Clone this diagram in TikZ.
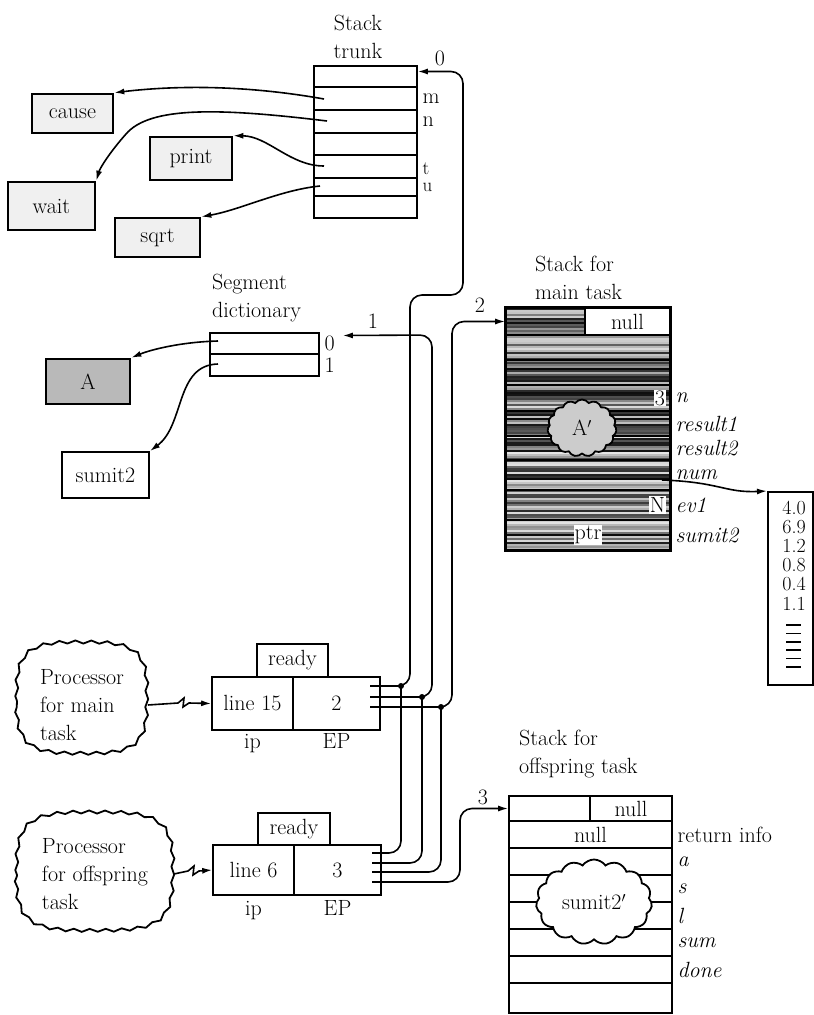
\documentclass[tikz,border=0pt]{standalone}
\usepackage{tikz}
\usetikzlibrary{arrows.meta,positioning,shapes.symbols,decorations.pathmorphing}

\begin{document}
\begin{tikzpicture}[x=1pt, y=-1pt, >=Latex, line width=1.6pt,
    font=\fontsize{22}{28}\selectfont,
    cell/.style={draw, inner sep=0pt},
    fnbox/.style={draw, line width=2.6pt, inner sep=0pt, fill=gray!12},
    cpu/.style={align=left, inner sep=0pt},
    wavy/.style={line width=1.8pt, decorate, decoration={snake, amplitude=1.5pt, segment length=16pt}},
    blob/.style={cloud, cloud puffs=15, cloud puff arc=110, cloud ignores aspect,
      draw, line width=1.8pt, inner sep=0pt},
    ptr/.style={-{Latex[length=10pt,width=6pt]}},
    wire/.style={rounded corners=12pt},
    tag/.style={inner sep=1pt},
    field/.style={inner sep=1pt, font=\fontsize{22}{28}\selectfont\itshape}
  ]
  \useasboundingbox (0,0) rectangle (814,1015);

  % stack trunk and the procedures it points to
  \node[align=center] (trunkttl) at (358,37) {Stack\\trunk};
  \foreach \ya/\yb [count=\i from 0] in {66/87,87/110,110/133,133/155,155/178,178/196,196/218}
    \node[cell, minimum width=103pt, minimum height={(\yb-\ya)*1pt}] (tr\i) at (365.5,{(\ya+\yb)/2}) {};
  \node[tag, right=3pt of tr1] {m};
  \node[tag, right=3pt of tr2] {n};
  \node[inner sep=0pt, align=left, font=\fontsize{19}{17}\selectfont, anchor=west] at ([xshift=4pt]tr5.north east) {t\\u};
  \coordinate (pm) at (324,99);
  \coordinate (pn) at (327,121);
  \coordinate (pt) at (324,166);
  \coordinate (pu) at (320,186);
  \coordinate (trin) at ([yshift=5pt]tr0.east);

  \node[fnbox, minimum width=81pt, minimum height=39pt] (cause) at (72.5,113.5) {cause};
  \node[fnbox, minimum width=82pt, minimum height=43pt] (print) at (191,158.5) {print};
  \node[fnbox, minimum width=87pt, minimum height=48pt] (wait) at (51.5,206) {wait};
  \node[fnbox, minimum width=85pt, minimum height=39pt] (sqrt) at (157.5,237.5) {sqrt};

  \draw[ptr] (pm) .. controls (240,84) and (170,86) .. (cause.north east);
  \draw[ptr] (pn) .. controls (220,108) and (150,106) .. (126,134)
                  .. controls (110,152) and (100,168) .. (wait.north east);
  \draw[ptr] (pt) .. controls (290,166) and (268,136) .. (print.north east);
  \draw[ptr] (pu) .. controls (280,190) and (240,210) .. (sqrt.north east);

  % segment dictionary
  \node[anchor=west, align=left] (segttl) at (208,298) {Segment\\dictionary};
  \node[cell, minimum width=109pt, minimum height=21pt] (sd0) at (264.5,343.5) {};
  \node[cell, minimum width=109pt, minimum height=22pt] (sd1) at (264.5,365) {};
  \node[tag, right=3pt of sd0] {0};
  \node[tag, right=3pt of sd1] {1};
  \coordinate (sa) at (218,341);
  \coordinate (sb) at (218,364);
  \coordinate (sdin) at ([xshift=23pt,yshift=8pt]sd0.east);
  \node[fnbox, fill=gray!55, minimum width=84pt, minimum height=45pt] (A) at (88,381.5) {A};
  \node[fnbox, line width=2pt, fill=none, minimum width=87pt, minimum height=46pt] (sumit) at (105.5,475) {sumit2};
  \draw[ptr] (sa) .. controls (180,342) and (150,350) .. (A.north east);
  \draw[ptr] (sb) .. controls (175,365) and (185,425) .. (sumit.north east);

  % stack for main task
  \node[anchor=west, align=left] (msttl) at (531,278) {Stack for\\main task};
  \pgfmathsetseed{7}
  \foreach \yy in {309,311,...,549}{
    \pgfmathsetmacro\g{int(10+88*rnd)}
    \draw[line width=2pt, black!\g] (507,\yy) -- (669,\yy);
  }
  \node[cell, minimum width=79pt, minimum height=27pt] (ms0a) at (545.5,321.5) {};
  \node[cell, fill=white, minimum width=85pt, minimum height=27pt] (ms0b) at (627.5,321.5) {null};
  \foreach \ya/\yb [count=\i from 1] in {335/360,360/385,385/411,411/436,436/460,460/490,490/520,520/550}
    \node[cell, minimum width=164pt, minimum height={(\yb-\ya)*1pt}] (ms\i) at (588,{(\ya+\yb)/2}) {};
  \draw[line width=2.4pt] (ms0a.north west) rectangle (ms8.south east);
  \node[blob, fill=gray!40, minimum width=69pt, minimum height=57pt] (aprime) at (582,428) {A$'$};
  \node[tag, fill=white, anchor=east] at ([xshift=-4pt]ms3.east) {3};
  \node[tag, fill=white, anchor=east] at ([xshift=-4pt]ms7.east) {N};
  \node[tag, fill=white] at (ms8) {ptr};
  \node[field, right=3pt of ms3] {n};
  \node[field, right=3pt of ms4] {result1};
  \node[field, right=3pt of ms5] {result2};
  \node[field, right=3pt of ms6] {num};
  \node[field, right=3pt of ms7] {ev1};
  \node[field, right=3pt of ms8] {sumit2};

  % array of values
  \coordinate (numsrc) at (662,480);
  \node[cell, line width=2pt, minimum width=45pt, minimum height=193pt] (vals) at (790.5,588.5) {};
  \node[inner sep=0pt, align=center, anchor=north, font=\fontsize{20}{19.2}\selectfont] (nums) at (794,500)
    {4.0\\6.9\\1.2\\0.8\\0.4\\1.1};
  \foreach \k in {0,...,5}
    \draw (786,{625+8.4*\k}) -- (801,{625+8.4*\k});
  \draw[ptr] (numsrc) .. controls (720,482) and (725,493) .. (vals.north west);

  % processors and their task records
  \draw[wavy] (17,701) .. controls (15,654) and (30,645) .. (82,646)
     .. controls (135,645) and (149,654) .. (147,701)
     .. controls (149,749) and (135,758) .. (82,757)
     .. controls (30,758) and (15,749) .. cycle;
  \node[cpu, minimum width=130pt, minimum height=100pt] (pmain) at (82,705) {Processor\\for main\\task};
  \node[cell, minimum width=81pt, minimum height=53pt] (mip) at (252.5,703.5) {line 15};
  \node[cell, minimum width=87pt, minimum height=53pt] (mep) at (336.5,703.5) {2};
  \node[cell, minimum width=71pt, minimum height=33pt] (mready) at (292.5,660.5) {ready};
  \node[tag, below=18pt of mip.south, anchor=base] {ip};
  \node[tag, below=18pt of mep.south, anchor=base] {EP};

  \draw[wavy] (17,875) .. controls (15,823) and (32,815) .. (95,816)
     .. controls (158,815) and (175,823) .. (173,875)
     .. controls (175,927) and (158,935) .. (95,934)
     .. controls (32,935) and (15,927) .. cycle;
  \node[cpu, minimum width=156pt, minimum height=100pt] (poff) at (95,874) {Processor\\for offspring\\task};
  \node[cell, minimum width=81pt, minimum height=50pt] (oip) at (253.5,870) {line 6};
  \node[cell, minimum width=87pt, minimum height=50pt] (oep) at (337.5,870) {3};
  \node[cell, minimum width=72pt, minimum height=32pt] (oready) at (294,829) {ready};
  \node[tag, below=20pt of oip.south, anchor=base] {ip};
  \node[tag, below=20pt of oep.south, anchor=base] {EP};

  \draw[ptr] (pmain.east) -- (178,703) -- (184,698) -- (183,707) -- (189,703) -- (mip.west);
  \draw[ptr] (poff.east) -- (188,871) -- (194,866) -- (193,875) -- (199,871) -- (oip.west);

  % stack for offspring task
  \node[anchor=west, align=left] (osttl) at (515,754) {Stack for\\offspring task};
  \node[cell, minimum width=81pt, minimum height=25pt] (os0a) at (549.5,808.5) {};
  \node[cell, minimum width=82pt, minimum height=25pt] (os0b) at (631,808.5) {null};
  \foreach \ya/\yb [count=\i from 1] in {821/848,848/875,875/902,902/929,929/956,956/983,983/1013}
    \node[cell, minimum width=163pt, minimum height={(\yb-\ya)*1pt}] (os\i) at (590.5,{(\ya+\yb)/2}) {};
  \node[tag] at (os1) {null};
  \node[blob, fill=white, minimum width=116pt, minimum height=85pt] (sumitp) at (594,902) {sumit2$'$};
  \node[tag, right=3pt of os1] {return info};
  \node[field, right=3pt of os2] {a};
  \node[field, right=3pt of os3] {s};
  \node[field, right=3pt of os4] {l};
  \node[field, right=3pt of os5] {sum};
  \node[field, right=3pt of os6] {done};

  % EP wires
  \draw[ptr, wire] (370,686) -- (410,686) -- (410,295) -- (463,295) -- (463,71.5) -- (trin);
  \draw[ptr, wire] (370,697) -- (432,697) -- (432,335) -- (sdin);
  \draw[ptr, wire] (370,707) -- (452,707) |- (ms0a.west);
  \draw[wire] (401,686) -- (401,853) -- (372,853);
  \draw[wire] (422,697) -- (422,863) -- (372,863);
  \draw[wire] (441,707) -- (441,872) -- (372,872);
  \draw[ptr, wire] (372,882) -- (460,882) |- (os0a.west);
  \foreach \p in {(401,686),(422,697),(441,707)}
    \fill \p circle (3pt);
  \node[tag] at (440,58) {0};
  \node[tag] at (373,321) {1};
  \node[tag] at (480,305) {2};
  \node[tag] at (483,797) {3};
\end{tikzpicture}
\end{document}
